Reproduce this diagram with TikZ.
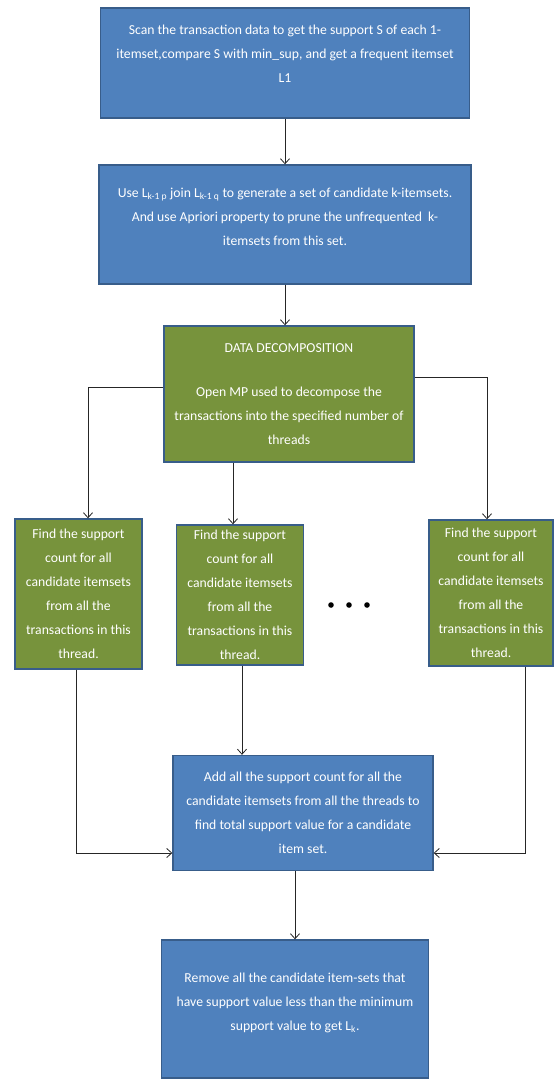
\documentclass[tikz,border=0pt]{standalone}
\usepackage{fontspec}
\setmainfont{Carlito}
\usepackage{xcolor}
\usetikzlibrary{arrows.meta}
\definecolor{boxblue}{HTML}{4F81BD}
\definecolor{boxgreen}{HTML}{77933C}
\definecolor{boxline}{HTML}{385D8A}
\newcommand{\findtext}{Find the support\\count for all\\candidate itemsets\\from all the\\transactions in this\\thread.}

\begin{document}
\begin{tikzpicture}[x=1pt,y=-1pt,>={Straight Barb[length=5pt,width=9pt]},
  box/.style={rectangle,draw=boxline,line width=1.4pt,text=white,align=center,
    font=\fontsize{13.7}{24}\selectfont,inner sep=0pt},
  bluebox/.style={box,fill=boxblue},
  greenbox/.style={box,fill=boxgreen},
  link/.style={->,line width=0.8pt,draw=black!85}]
\useasboundingbox (0,0) rectangle (555,1080);

\node[bluebox,minimum width=369pt,minimum height=110pt,text depth=19pt] (S) at (285,63)
  {Scan the transaction data to get the support S of each 1-\\itemset,compare S with min\_sup, and get a frequent itemset\\L1};
\node[bluebox,minimum width=372pt,minimum height=119pt,text depth=15pt] (G) at (285,224.5)
  {Use L\textsubscript{k-1 p} join L\textsubscript{k-1 q} to generate a set of candidate k-itemsets.\\And use Apriori property to prune the unfrequented\ \ k-\\itemsets from this set.};
\node[greenbox,minimum width=250pt,minimum height=136pt] (D) at (289,394)
  {DATA DECOMPOSITION\\[20pt]Open MP used to decompose the\\transactions into the specified number of\\threads};
\node[greenbox,minimum width=127pt,minimum height=150pt] (T1) at (78.5,594) {\findtext};
\node[greenbox,minimum width=127pt,minimum height=140pt] (T2) at (240,595) {\findtext};
\node[greenbox,minimum width=124pt,minimum height=146pt] (T3) at (491,593) {\findtext};
\node[bluebox,minimum width=260pt,minimum height=115pt] (A) at (303,813)
  {Add all the support count for all the\\candidate itemsets from all the threads to\\find total support value for a candidate\\item set.};
\node[bluebox,minimum width=267pt,minimum height=138pt,text depth=15pt] (R) at (295,1009)
  {Remove all the candidate item-sets that\\have support value less than the minimum\\support value to get L\textsubscript{k}.};

% dots between the threads
\foreach \x in {331,349,367}
  \fill (\x,605) circle (2.8pt);

\path (S) edge[link] (G);
\draw[link] (G.south) -- (G.south |- D.north);
\draw[link] ([yshift=7pt]D.west) -| ([xshift=9.5pt]T1.north);
\draw[link] ([xshift=-56pt]D.south) -- ([xshift=-56pt]D.south |- T2.north);
\draw[link] ([yshift=17pt]D.east) -| ([xshift=-4pt]T3.north);
\draw[link] ([xshift=-2.5pt]T1.south) |- ([yshift=-40pt]A.west);
\draw[link] ([xshift=2pt]T2.south) -- ([xshift=2pt]T2.south |- A.north);
\draw[link] ([xshift=34pt]T3.south) |- ([yshift=-40pt]A.east);
\draw[link] (A.south -| R.north) -- (R.north);

\end{tikzpicture}
\end{document}
